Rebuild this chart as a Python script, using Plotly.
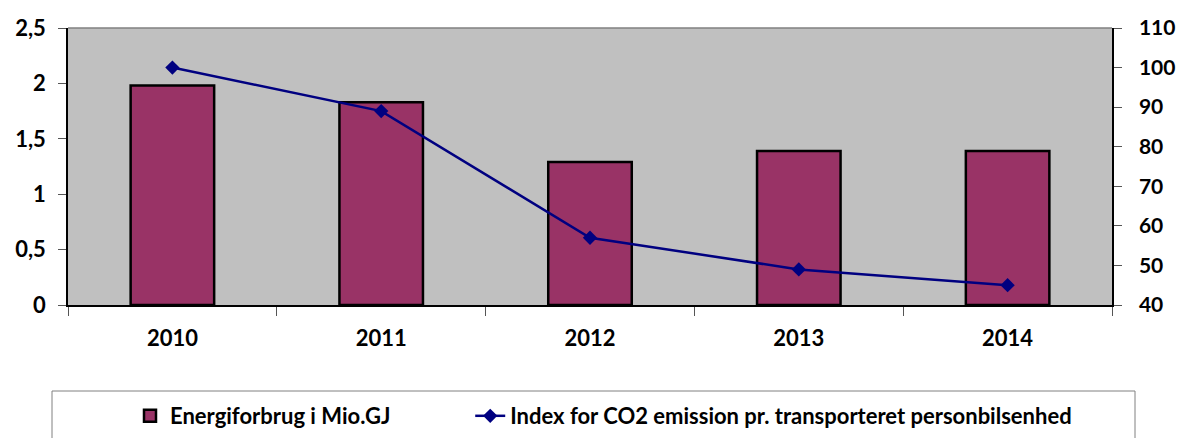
import plotly.graph_objects as go

years = ["2010", "2011", "2012", "2013", "2014"]
energy = [1.98, 1.83, 1.29, 1.39, 1.39]
co2_index = [100, 89, 57, 49, 45]

W, H = 1179, 438
L, R, T, B = 68, 67, 28, 133
pw, ph = W - L - R, H - T - B

def px_x(px):
    return (px - L) / pw

def px_y(py):
    return (H - B - py) / ph

font_fam = "Lato, 'Open Sans', Arial, sans-serif"
tick_font = dict(size=22, family=font_fam, weight="bold", color="black")

fig = go.Figure()
fig.add_trace(go.Bar(
    x=years, y=energy,
    name="Energiforbrug i Mio.GJ" + "\u00a0" * 14,
    marker=dict(color="#993366", line=dict(color="black", width=2.5)),
    yaxis="y",
))
fig.add_trace(go.Scatter(
    x=years, y=co2_index,
    name="Index for CO2 emission pr. transporteret personbilsenhed",
    mode="lines+markers",
    line=dict(color="#000080", width=2.5),
    marker=dict(symbol="diamond", size=11, color="#000080"),
    yaxis="y2",
))

fig.update_layout(
    width=W, height=H,
    margin=dict(l=L, r=R, t=T, b=B, autoexpand=False),
    paper_bgcolor="white",
    plot_bgcolor="#C0C0C0",
    separators=", ",
    bargap=0.6,
    font=dict(family=font_fam, color="black"),
    xaxis=dict(
        type="category", showline=True, linecolor="black", linewidth=1.5,
        ticks="outside", tickson="boundaries", ticklen=9, tickcolor="#555555",
        tickfont=tick_font, ticklabelstandoff=13, showgrid=False, automargin=False,
    ),
    yaxis=dict(
        range=[0, 2.5], dtick=0.5, showline=True, linecolor="black", linewidth=1.5,
        ticks="outside", ticklen=8, tickcolor="#555555", showgrid=False, zeroline=False,
        tickfont=tick_font, tickformat=".1~f", ticklabelstandoff=8, automargin=False,
    ),
    yaxis2=dict(
        range=[40, 110], dtick=10, overlaying="y", side="right",
        showline=True, linecolor="black", linewidth=1.5,
        ticks="outside", ticklen=8, tickcolor="#555555", showgrid=False, zeroline=False,
        tickfont=dict(size=21, family=font_fam, weight="bold", color="black"),
        ticklabelstandoff=13, automargin=False,
    ),
    showlegend=True,
    legend=dict(
        orientation="h", x=px_x(130), y=px_y(416), xanchor="left", yanchor="middle",
        font=dict(size=22, family=font_fam, weight="bold", color="black"),
        bgcolor="rgba(0,0,0,0)", traceorder="normal",
    ),
    shapes=[
        dict(type="rect", xref="paper", yref="paper",
             x0=px_x(52), x1=px_x(1135), y0=px_y(391), y1=px_y(445),
             line=dict(color="#808080", width=1), fillcolor="rgba(0,0,0,0)"),
        dict(type="line", xref="paper", yref="paper", x0=0, x1=1, y0=1, y1=1,
             line=dict(color="#808080", width=1.5)),
    ],
)

fig.write_html(
    "out.html",
    config={"displayModeBar": False},
    post_script="document.body.style.margin='0';document.body.style.padding='0';",
)
